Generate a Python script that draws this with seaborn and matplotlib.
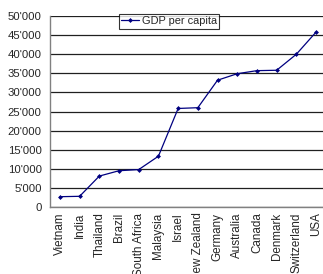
import matplotlib
matplotlib.use('Agg')
import matplotlib.pyplot as plt
import seaborn as sns
import pandas as pd
from matplotlib.ticker import FuncFormatter, FixedLocator

countries = ['Vietnam', 'India', 'Thailand', 'Brazil', 'South Africa', 'Malaysia', 'Israel',
             'New Zealand', 'Germany', 'Australia', 'Canada', 'Denmark', 'Switzerland', 'USA']
gdp = [2700, 2800, 8100, 9500, 9800, 13300, 25800, 26000, 33200, 34900, 35700, 35800, 40000, 45800]

df = pd.DataFrame({'country': countries, 'gdp': gdp, 'pos': range(len(countries))})

sns.set_style('white')
plt.rcParams['font.family'] = ['Liberation Sans', 'DejaVu Sans']

fig = plt.figure(figsize=(3.23, 2.74), dpi=100)
ax = fig.add_axes([0.155, 0.2445, 0.854, 0.697])

sns.lineplot(data=df, x='pos', y='gdp', ax=ax, color='#000080', lw=0.9,
             marker='D', markersize=2.5, markeredgewidth=0, label='GDP per capita')

ax.set_xlim(-0.5, len(countries) - 0.5)
ax.set_ylim(0, 50000)
ax.set_yticks(range(0, 50001, 5000))
ax.yaxis.set_major_formatter(FuncFormatter(lambda v, p: f"{int(v):,}".replace(',', "'")))
ax.set_xticks(df['pos'])
ax.set_xticklabels(countries, rotation=90)
ax.xaxis.set_minor_locator(FixedLocator([i + 0.5 for i in range(-1, len(countries))]))
ax.tick_params(axis='x', which='major', length=0, labelsize=8.4, pad=4)
ax.tick_params(axis='x', which='minor', length=4, width=0.8, color='#404040', direction='out')
ax.tick_params(axis='y', length=4, width=0.8, color='#404040', direction='out', labelsize=8.2, pad=2)
ax.set_xlabel('')
ax.set_ylabel('')

ax.grid(axis='y', color='#202020', lw=0.9)
for s in ['top', 'right']:
    ax.spines[s].set_visible(False)
for s in ['left', 'bottom']:
    ax.spines[s].set_color('#808080')
    ax.spines[s].set_linewidth(1)

leg = ax.legend(loc='upper left', bbox_to_anchor=(0.25, 1.01), fontsize=7.9, frameon=True,
                fancybox=False, borderpad=0.2, handlelength=1.6, handletextpad=0.3,
                borderaxespad=0)
leg.get_frame().set_edgecolor('black')
leg.get_frame().set_linewidth(0.8)

fig.savefig('out.png', dpi=100)
